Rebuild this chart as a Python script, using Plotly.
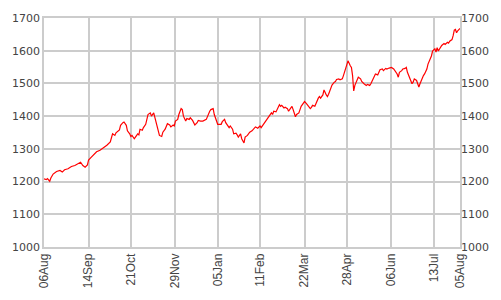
import pandas as pd
import plotly.graph_objects as go

start_date = "2010-08-06"

# days since start date
days = [0, 2, 3, 5, 6, 8, 11, 14, 16, 18, 21, 24, 27, 29, 32, 34, 36, 38, 39, 41,
        43, 46, 49, 52, 55, 58, 59, 60, 62, 63, 66, 67, 69, 70, 72, 73, 75, 76, 77, 79,
        80, 82, 83, 84, 86, 87, 89, 90, 91, 93, 94, 96, 97, 98, 100, 101, 103, 104, 106, 107,
        108, 110, 111, 113, 114, 115, 117, 118, 120, 121, 122, 124, 125, 127, 128, 130, 131, 132, 134, 135,
        137, 139, 142, 144, 145, 146, 148, 149, 151, 152, 154, 155, 156, 158, 159, 161, 162, 163, 165, 166,
        168, 169, 170, 172, 173, 175, 176, 178, 179, 180, 182, 183, 185, 186, 187, 189, 190, 192, 193, 194,
        196, 197, 199, 200, 201, 203, 204, 206, 207, 208, 210, 211, 213, 214, 216, 217, 218, 220, 221, 223,
        224, 225, 227, 228, 230, 231, 233, 234, 235, 237, 238, 240, 241, 242, 244, 245, 247, 248, 249, 251,
        252, 254, 255, 256, 258, 259, 261, 262, 264, 265, 266, 268, 269, 270, 271, 272, 273, 274, 275, 277,
        278, 280, 282, 283, 285, 286, 288, 289, 290, 292, 293, 294, 296, 297, 299, 300, 302, 303, 304, 306,
        307, 309, 310, 311, 313, 314, 316, 317, 318, 320, 322, 323, 324, 326, 327, 328, 329, 330, 332, 333,
        335, 336, 338, 339, 340, 342, 343, 344, 345, 347, 348, 350, 351, 353, 354, 355, 357, 358, 359, 360,
        361, 362, 363, 364]

prices = [1208, 1206, 1209, 1201, 1211, 1223, 1231, 1234, 1229, 1236, 1239, 1246, 1249, 1253, 1259, 1249, 1244, 1251, 1266, 1273,
          1281, 1291, 1296, 1303, 1311, 1321, 1336, 1346, 1341, 1349, 1358, 1372, 1380, 1382, 1372, 1355, 1346, 1338, 1341, 1331,
          1336, 1346, 1343, 1360, 1357, 1365, 1375, 1390, 1405, 1410, 1400, 1410, 1395, 1380, 1355, 1341, 1338, 1351, 1360, 1370,
          1377, 1373, 1367, 1373, 1370, 1385, 1390, 1405, 1423, 1420, 1400, 1385, 1393, 1390, 1395, 1387, 1380, 1373, 1380, 1387,
          1385, 1385, 1390, 1410, 1415, 1420, 1423, 1405, 1388, 1375, 1375, 1375, 1383, 1390, 1380, 1370, 1365, 1370, 1360, 1346,
          1348, 1343, 1336, 1346, 1331, 1318, 1336, 1341, 1346, 1351, 1355, 1360, 1367, 1365, 1363, 1370, 1365, 1375, 1380, 1385,
          1395, 1400, 1410, 1405, 1415, 1413, 1420, 1435, 1430, 1433, 1425, 1427, 1423, 1415, 1425, 1430, 1420, 1398, 1405, 1410,
          1420, 1430, 1440, 1445, 1437, 1433, 1423, 1427, 1433, 1430, 1440, 1455, 1460, 1455, 1465, 1480, 1465, 1460, 1467, 1485,
          1495, 1504, 1506, 1512, 1514, 1511, 1514, 1524, 1544, 1559, 1569, 1554, 1549, 1524, 1477, 1494, 1504, 1514, 1519, 1514,
          1506, 1499, 1494, 1497, 1494, 1499, 1514, 1522, 1529, 1526, 1534, 1542, 1544, 1539, 1546, 1544, 1547, 1548, 1549, 1544,
          1539, 1529, 1519, 1534, 1539, 1544, 1546, 1549, 1534, 1519, 1499, 1504, 1514, 1509, 1494, 1489, 1499, 1509, 1524, 1529,
          1544, 1559, 1574, 1584, 1599, 1606, 1596, 1609, 1599, 1609, 1616, 1622, 1619, 1626, 1623, 1629, 1634, 1646, 1663, 1665,
          1655, 1661, 1665, 1668]

tick_dates = ["2010-08-06", "2010-09-14", "2010-10-21", "2010-11-29", "2011-01-05", "2011-02-11",
              "2011-03-22", "2011-04-28", "2011-06-06", "2011-07-13", "2011-08-05"]
tick_labels = ["06Aug", "14Sep", "21Oct", "29Nov", "05Jan", "11Feb",
               "22Mar", "28Apr", "06Jun", "13Jul", "05Aug"]
y_ticks = [1000, 1100, 1200, 1300, 1400, 1500, 1600, 1700]

dates = pd.to_datetime(start_date) + pd.to_timedelta(days, unit="D")

grid = "#cccccc"
fig = go.Figure()
fig.add_trace(go.Scatter(x=dates, y=prices, mode="lines",
                         line=dict(color="#ff0000", width=1.2), hoverinfo="skip"))
fig.add_trace(go.Scatter(x=dates, y=prices, mode="lines", yaxis="y2",
                         line=dict(color="rgba(0,0,0,0)", width=0), hoverinfo="skip"))

fig.update_layout(
    width=501, height=300,
    margin=dict(l=37, r=34, t=16, b=49),
    paper_bgcolor="white", plot_bgcolor="white",
    showlegend=False,
    xaxis=dict(range=[tick_dates[0], tick_dates[-1]], tickvals=tick_dates, ticktext=tick_labels,
               tickangle=-90, showgrid=True, gridcolor=grid, gridwidth=1.5,
               showline=True, linecolor=grid, linewidth=1.5, mirror=True,
               ticks="", ticklen=0,
               tickfont=dict(family="Liberation Sans, Arial", size=12, color="#444444")),
    yaxis=dict(range=[1000, 1700], tickvals=y_ticks, showgrid=True, gridcolor=grid, gridwidth=1.5,
               showline=True, linecolor=grid, linewidth=1.5, mirror=True, zeroline=False,
               ticks="", tickfont=dict(family="DejaVu Sans, Verdana", size=11, color="#444444")),
    yaxis2=dict(range=[1000, 1700], tickvals=y_ticks, overlaying="y", side="right",
                showgrid=False, zeroline=False, showline=False, ticks="",
                tickfont=dict(family="DejaVu Sans, Verdana", size=11, color="#444444")),
)

fig.write_html("out.html")
